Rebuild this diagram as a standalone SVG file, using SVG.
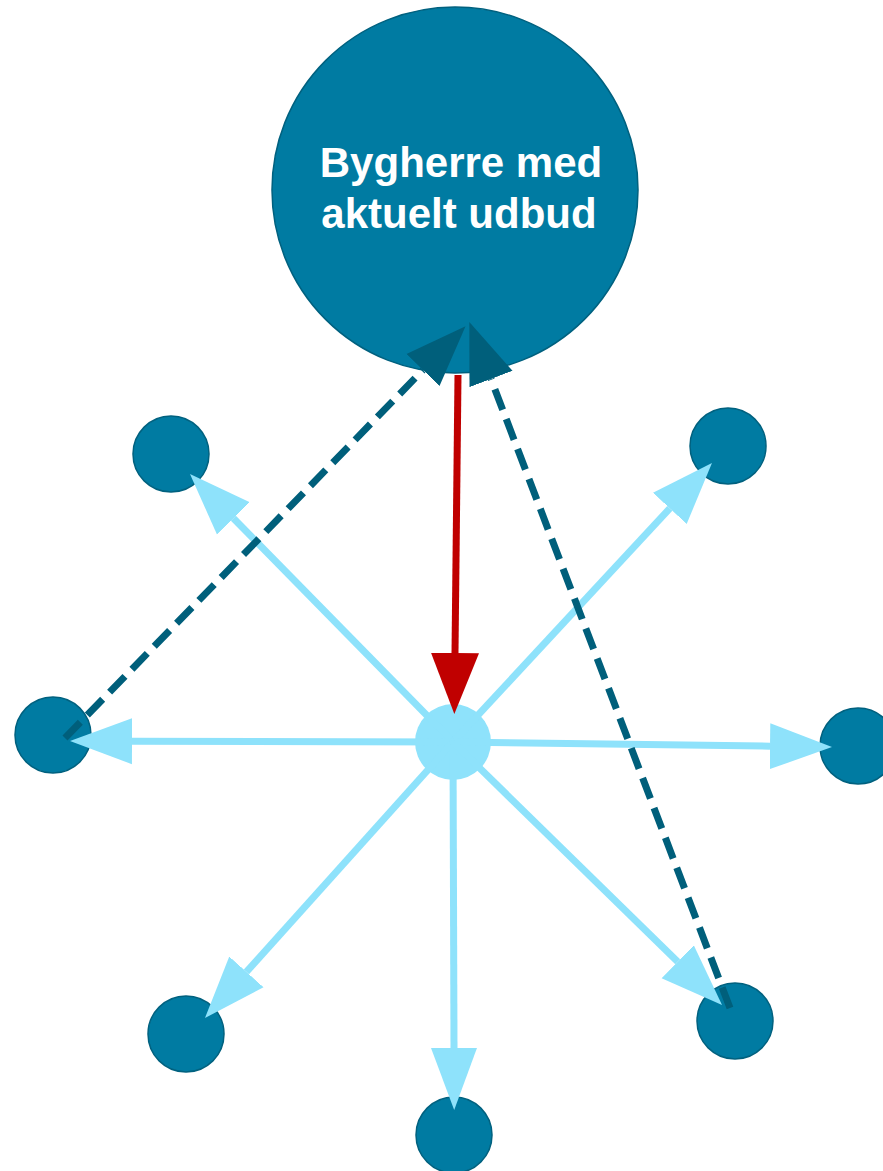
<svg xmlns="http://www.w3.org/2000/svg" width="883" height="1171" viewBox="0 0 883 1171">
<style>
.node{fill:#007BA2;stroke:#00617F;stroke-width:1.5}
.hub{fill:#8EE2FB}
.lt{stroke:#8EE2FB;stroke-width:7;fill:none;marker-end:url(#hl)}
.red{stroke:#C00000;stroke-width:7;fill:none;marker-end:url(#hr)}
.dash{stroke:#005F7B;stroke-width:7;fill:none;stroke-dasharray:22 10;marker-end:url(#hd)}
.lbl{font-family:"Liberation Sans",Arial,sans-serif;font-weight:bold;font-size:42px;fill:#FFFFFF;text-anchor:middle}
</style>
<defs>
<marker id="hl" markerUnits="userSpaceOnUse" markerWidth="64" markerHeight="48" viewBox="0 0 64 48" refX="0" refY="24" orient="auto"><path d="M0,1 L62,24 L0,47 Z" fill="#8EE2FB"/></marker>
<marker id="hr" markerUnits="userSpaceOnUse" markerWidth="64" markerHeight="48" viewBox="0 0 64 48" refX="0" refY="24" orient="auto"><path d="M0,0 L61,24 L0,48 Z" fill="#C00000"/></marker>
<marker id="hd" markerUnits="userSpaceOnUse" markerWidth="64" markerHeight="48" viewBox="0 0 64 48" refX="0" refY="24" orient="auto"><path d="M0,1 L61,24 L0,47 Z" fill="#005F7B"/></marker>
</defs>
<g id="nodes">
<g id="n-bygherre"><circle class="node" cx="455" cy="190" r="183"/><text class="lbl" x="461" y="177">Bygherre med</text><text class="lbl" x="459" y="228">aktuelt udbud</text></g>
<g id="n-hub"><circle class="hub" cx="453" cy="742" r="38"/></g>
<g id="n-tl"><circle class="node" cx="171" cy="454" r="38"/></g>
<g id="n-tr"><circle class="node" cx="728" cy="446" r="38"/></g>
<g id="n-l"><circle class="node" cx="53" cy="735" r="38"/></g>
<g id="n-r"><circle class="node" cx="858" cy="746" r="38"/></g>
<g id="n-bl"><circle class="node" cx="186" cy="1034" r="38"/></g>
<g id="n-b"><circle class="node" cx="454" cy="1135" r="38"/></g>
<g id="n-br"><circle class="node" cx="735" cy="1021" r="38"/></g>
</g>
<g id="connectors">
<line class="lt" x1="453" y1="742" x2="233.4" y2="518.3"/>
<line class="lt" x1="453" y1="742" x2="669.8" y2="508.4"/>
<line class="lt" x1="453" y1="742" x2="132" y2="741.2"/>
<line class="lt" x1="453" y1="742" x2="770" y2="746.2"/>
<line class="lt" x1="453" y1="742" x2="246.4" y2="971.9"/>
<line class="lt" x1="453" y1="742" x2="454" y2="1048"/>
<line class="lt" x1="453" y1="742" x2="677.7" y2="961.7"/>
<line class="red" x1="458" y1="375" x2="455" y2="653"/>
<line class="dash" x1="65" y1="738" x2="423" y2="370"/>
<line class="dash" x1="730" y1="1008" x2="491" y2="379"/>
</g>
</svg>
